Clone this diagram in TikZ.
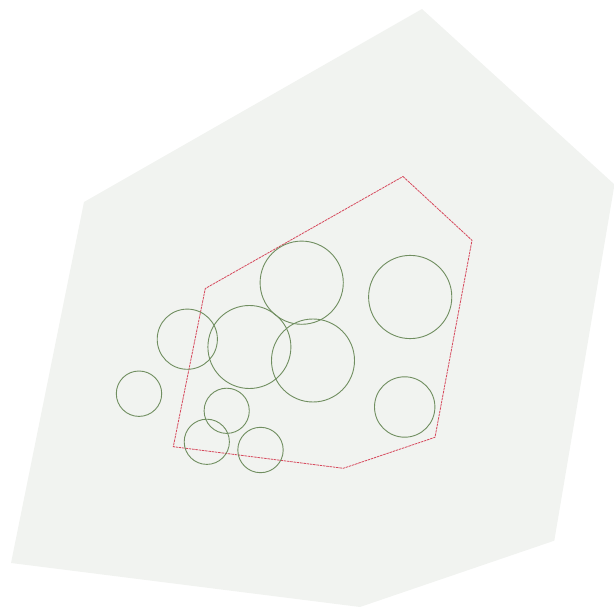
\documentclass[tikz,border=0pt]{standalone}
\definecolor{hullfill}{RGB}{241,243,240}
\definecolor{ringcol}{RGB}{112,142,96}
\definecolor{hullred}{RGB}{214,72,92}
\tikzset{
  ring/.style={draw=ringcol, line width=0.9pt, fill=none},
  innerhull/.style={draw=hullred, line width=0.8pt, dash pattern=on 2.5pt off 0.8pt, line join=miter},
}
\begin{document}
\begin{tikzpicture}[x=1pt,y=-1pt]
\useasboundingbox (0,0) rectangle (614,607);
\clip (0,0) rectangle (614,607);
\fill[hullfill] (422,9) -- (614.5,184.5) -- (554.3,540.7) -- (360,607) -- (11,563) -- (84,202) -- cycle;
\draw[innerhull] (403,176.5) -- (472,240.3) -- (435,437.3) -- (343.3,468.3) -- (173.3,446.7) -- (205.3,288.5) -- cycle;
\draw[ring] (301.7,282.7) circle (41.6);
\draw[ring] (410.2,297) circle (41.6);
\draw[ring] (249.4,347) circle (41.5);
\draw[ring] (313,360.5) circle (41.5);
\draw[ring] (187.3,339.2) circle (30.1);
\draw[ring] (139,393.7) circle (22.7);
\draw[ring] (226.7,410.8) circle (22.6);
\draw[ring] (206.8,441.8) circle (22.6);
\draw[ring] (260.5,450) circle (22.7);
\draw[ring] (404.7,407) circle (30.2);
\end{tikzpicture}
\end{document}
